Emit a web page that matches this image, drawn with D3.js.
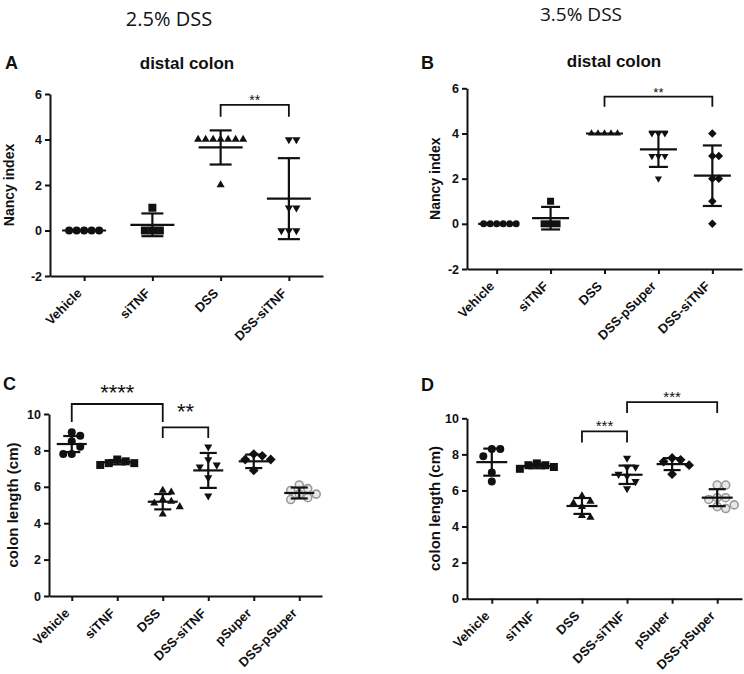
<!DOCTYPE html>
<html>
<head>
<meta charset="utf-8">
<script src="https://cdn.jsdelivr.net/npm/d3@7"></script>
<style>
  body { margin: 0; background: #fff; }
  text { font-family: "Liberation Sans", Arial, sans-serif; fill: #111; }
</style>
</head>
<body>
<script>
let width = 744
let height = 674

// ---- panel A : 2.5% DSS, Nancy index
let catsA = ['Vehicle', 'siTNF', 'DSS', 'DSS-siTNF']
let pointsA = [[0, 0, 0, 0, 0], [1, 0, 0, 0], [4, 4, 4, 4, 4, 4, 4, 2], [4, 4, 1, 1, 0, 0, 0]]
let meanA = [0, 0.25, 3.65, 1.4]
let sdA = [0, 0.5, 0.75, 1.78]
let shapesA = ['circle', 'square', 'triangle', 'triangleDown']
let ticksA = [-2, 0, 2, 4, 6]
// from, to, label, top, leg end, label gap
let bracketsA = [['DSS', 'DSS-siTNF', '**', 5.52, 5.0, 0]]

// ---- panel B : 3.5% DSS, Nancy index
let catsB = ['Vehicle', 'siTNF', 'DSS', 'DSS-pSuper', 'DSS-siTNF']
let pointsB = [[0, 0, 0, 0, 0, 0], [1, 0, 0, 0], [4, 4, 4, 4, 4], [4, 4, 4, 3, 3, 3, 2], [4, 3, 3, 2, 2, 1, 0]]
let meanB = [0, 0.25, 4, 3.3, 2.13]
let sdB = [0, 0.5, 0, 0.78, 1.34]
let shapesB = ['circle', 'square', 'triangle', 'triangleDown', 'diamond']
let ticksB = [-2, 0, 2, 4, 6]
let bracketsB = [['DSS', 'DSS-siTNF', '**', 5.63, 5.18, 0]]

// ---- panel C : 2.5% DSS, colon length
let catsC = ['Vehicle', 'siTNF', 'DSS', 'DSS-siTNF', 'pSuper', 'DSS-pSuper']
let pointsC = [
  [9.0, 8.8, 8.5, 8.2, 7.8, 7.8],
  [7.5, 7.4, 7.3, 7.3, 7.2],
  [5.8, 5.7, 5.3, 5.2, 5.1, 4.9, 4.5],
  [8.2, 7.5, 7.2, 7.1, 6.5, 5.5],
  [7.8, 7.7, 7.5, 7.5, 6.9],
  [6.1, 5.9, 5.8, 5.6, 5.6, 5.4, 5.3]
]
let meanC = [8.35, 7.35, 5.18, 6.9, 7.4, 5.66]
let sdC = [0.44, 0.12, 0.42, 0.96, 0.37, 0.3]
let shapesC = ['circle', 'square', 'triangle', 'triangleDown', 'diamond', 'openCircle']
let ticksC = [0, 2, 4, 6, 8, 10]
let bracketsC = [['Vehicle', 'DSS', '****', 10.55, 9.56, 4], ['DSS', 'DSS-siTNF', '**', 9.27, 8.68, 8]]

// ---- panel D : 3.5% DSS, colon length
let catsD = ['Vehicle', 'siTNF', 'DSS', 'DSS-siTNF', 'pSuper', 'DSS-pSuper']
let pointsD = [
  [8.3, 8.3, 7.9, 7.0, 6.5],
  [7.5, 7.4, 7.4, 7.3, 7.2],
  [5.7, 5.4, 5.3, 5.1, 4.6, 4.5],
  [7.8, 7.3, 7.3, 6.9, 6.8, 6.5, 6.1],
  [7.8, 7.7, 7.6, 7.4, 6.9],
  [6.3, 6.3, 5.6, 5.6, 5.5, 5.2, 5.1, 5.0]
]
let meanD = [7.57, 7.35, 5.14, 6.87, 7.46, 5.6]
let sdD = [0.75, 0.12, 0.44, 0.51, 0.33, 0.47]
let shapesD = ['circle', 'square', 'triangle', 'triangleDown', 'diamond', 'openCircle']
let ticksD = [0, 2, 4, 6, 8, 10]
let bracketsD = [['DSS', 'DSS-siTNF', '***', 9.27, 8.66, 0], ['DSS-siTNF', 'DSS-pSuper', '***', 10.9, 10.29, 0]]

let svg = d3.select('body').append('svg')
  .attr('width', width)
  .attr('height', height)

var diamond = {
  draw: function(context, size) {
    let r = Math.sqrt(size / 2)
    context.moveTo(0, -r)
    context.lineTo(r, 0)
    context.lineTo(0, r)
    context.lineTo(-r, 0)
    context.closePath()
  }
}

function symbolPath(shape, d) {
  if (shape == 'circle' || shape == 'openCircle') return d3.symbol(d3.symbolCircle, Math.PI * d * d / 4)()
  if (shape == 'square') return d3.symbol(d3.symbolSquare, d * d)()
  if (shape == 'triangle' || shape == 'triangleDown') return d3.symbol(d3.symbolTriangle, 0.45 * d * d)()
  return d3.symbol(diamond, d * d * 0.75)()
}

// simple beeswarm: spread points sideways when they would overlap
function swarm(values, y, s) {
  let placed = []
  values.forEach(v => {
    let py = y(v)
    for (let k = 0; k < 40; k++) {
      let off = k == 0 ? 0 : (k % 2 ? 1 : -1) * Math.ceil(k / 2) * s
      let free = placed.every(p => Math.abs(p.py - py) >= s - 0.5 || Math.abs(p.off - off) >= s - 0.5)
      if (free) { placed.push({ v: v, py: py, off: off }); break }
    }
  })
  return placed
}

function drawPanel(p) {
  let g = svg.append('g')
  let x = d3.scalePoint().domain(p.cats).range([p.left, p.right]).padding(p.pad)
  let y = d3.scaleLinear().domain([p.ticks[0], p.ticks[p.ticks.length - 1]]).range([p.bottom, p.top])

  let yAxis = g.append('g')
    .attr('transform', 'translate(' + p.left + ',0)')
    .call(d3.axisLeft(y).tickValues(p.ticks).tickFormat(d => String(d))
      .tickSize(5).tickSizeOuter(0).tickPadding(3))
  let xAxis = g.append('g')
    .attr('transform', 'translate(0,' + p.bottom + ')')
    .call(d3.axisBottom(x).tickSize(5).tickSizeOuter(0))

  ;[yAxis, xAxis].forEach(a => {
    a.attr('font-family', null).attr('font-size', null)
    a.selectAll('path, line').attr('stroke', '#111').attr('stroke-width', 2)
    a.selectAll('text').style('font-size', '12.5px').style('font-weight', 'bold')
  })
  xAxis.selectAll('text')
    .attr('y', 0).attr('dy', 0).attr('x', 0)
    .attr('transform', 'translate(-2,18) rotate(-45)')
    .style('text-anchor', 'end')
    .style('font-size', '13px')

  // points
  p.cats.forEach((c, i) => {
    let shape = p.shapes[i]
    let pts = swarm(p.points[i], y, p.space)
    g.append('g').selectAll('path')
      .data(pts)
      .join('path')
      .attr('d', symbolPath(shape, p.msize))
      .attr('transform', d => 'translate(' + (x(c) + d.off) + ',' + d.py + ')' + (shape == 'triangleDown' ? ' rotate(180)' : ''))
      .attr('fill', shape == 'openCircle' ? '#e8e8e8' : '#111')
      .attr('stroke', shape == 'openCircle' ? '#999' : 'none')
      .attr('stroke-width', 1.6)
  })

  // mean and SD bars
  p.cats.forEach((c, i) => {
    let cx = x(c), m = p.mean[i], s = p.sd[i]
    let eg = g.append('g').attr('stroke', '#111').attr('stroke-width', 2.2)
    eg.append('line').attr('x1', cx - p.meanW / 2).attr('x2', cx + p.meanW / 2).attr('y1', y(m)).attr('y2', y(m))
    if (s > 0) {
      eg.append('line').attr('x1', cx).attr('x2', cx).attr('y1', y(m - s)).attr('y2', y(m + s))
      ;[m - s, m + s].forEach(v => {
        eg.append('line').attr('x1', cx - p.capW / 2).attr('x2', cx + p.capW / 2).attr('y1', y(v)).attr('y2', y(v))
      })
    }
  })

  // significance brackets
  p.brackets.forEach(b => {
    let x1 = x(b[0]), x2 = x(b[1])
    g.append('path')
      .attr('d', 'M' + x1 + ',' + y(b[4]) + 'V' + y(b[3]) + 'H' + x2 + 'V' + y(b[4]))
      .attr('fill', 'none')
      .attr('stroke', '#111')
      .attr('stroke-width', 1.8)
    g.append('text')
      .attr('x', (x1 + x2) / 2)
      .attr('y', y(b[3]) - b[5])
      .attr('text-anchor', 'middle')
      .style('font-size', p.starSize + 'px')
      .text(b[2])
  })

  // y label
  g.append('text')
    .attr('transform', 'translate(' + p.ylabX + ',' + (p.top + p.bottom) / 2 + ') rotate(-90)')
    .attr('text-anchor', 'middle')
    .style('font-size', p.ylabSize + 'px')
    .style('font-weight', 'bold')
    .text(p.ylab)

  // panel letter
  g.append('text')
    .attr('x', p.letterX).attr('y', p.letterY)
    .style('font-size', '18px').style('font-weight', 'bold')
    .text(p.letter)

  if (p.title) {
    g.append('text')
      .attr('x', p.titleX).attr('y', p.titleY)
      .attr('text-anchor', 'middle')
      .style('font-size', '17px').style('font-weight', 'bold')
      .text(p.title)
  }
}

drawPanel({
  letter: 'A', letterX: 5, letterY: 69, title: 'distal colon', titleX: 187, titleY: 69,
  cats: catsA, points: pointsA, mean: meanA, sd: sdA, shapes: shapesA, ticks: ticksA, brackets: bracketsA,
  left: 50, right: 323, top: 94, bottom: 276, pad: 0.5,
  msize: 8, space: 7.5, meanW: 44, capW: 22, starSize: 14,
  ylab: 'Nancy index', ylabX: 14, ylabSize: 14
})

drawPanel({
  letter: 'B', letterX: 421, letterY: 69, title: 'distal colon', titleX: 614, titleY: 67,
  cats: catsB, points: pointsB, mean: meanB, sd: sdB, shapes: shapesB, ticks: ticksB, brackets: bracketsB,
  left: 467, right: 742, top: 88.3, bottom: 269, pad: 0.55,
  msize: 7, space: 6.5, meanW: 37, capW: 19, starSize: 13,
  ylab: 'Nancy index', ylabX: 440, ylabSize: 14
})

drawPanel({
  letter: 'C', letterX: 3, letterY: 390,
  cats: catsC, points: pointsC, mean: meanC, sd: sdC, shapes: shapesC, ticks: ticksC, brackets: bracketsC,
  left: 49, right: 322, top: 414, bottom: 596, pad: 0.5,
  msize: 8, space: 8.5, meanW: 30, capW: 17, starSize: 22,
  ylab: 'colon length (cm)', ylabX: 18, ylabSize: 15
})

drawPanel({
  letter: 'D', letterX: 421, letterY: 391,
  cats: catsD, points: pointsD, mean: meanD, sd: sdD, shapes: shapesD, ticks: ticksD, brackets: bracketsD,
  left: 467, right: 742, top: 418.3, bottom: 598.7, pad: 0.55,
  msize: 8, space: 8.5, meanW: 31, capW: 17, starSize: 15,
  ylab: 'colon length (cm)', ylabX: 440, ylabSize: 15
})

// column headers
svg.append('text')
  .attr('x', 169).attr('y', 26)
  .attr('text-anchor', 'middle')
  .style('font-family', '"Open Sans", sans-serif').style('font-size', '20px')
  .text('2.5% DSS')

svg.append('text')
  .attr('x', 581).attr('y', 21)
  .attr('text-anchor', 'middle')
  .style('font-family', '"Open Sans", sans-serif').style('font-size', '19px')
  .text('3.5% DSS')
</script>
</body>
</html>
